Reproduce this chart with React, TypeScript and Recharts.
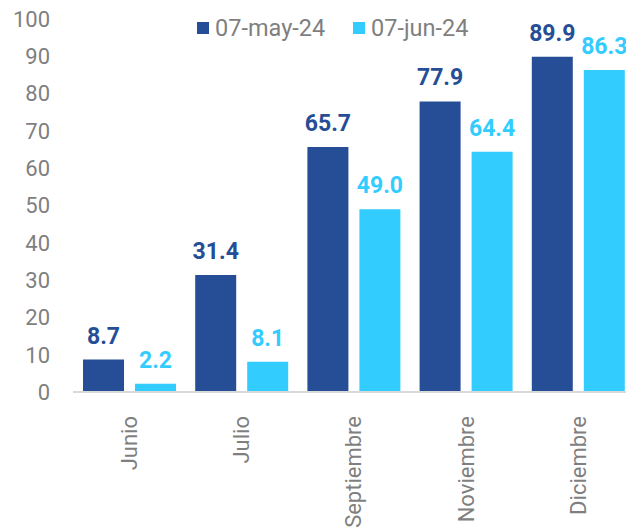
import React from "react";
import { BarChart, Bar, XAxis, YAxis, LabelList } from "recharts";

const months = ["Junio", "Julio", "Septiembre", "Noviembre", "Diciembre"];
const may24 = [8.7, 31.4, 65.7, 77.9, 89.9];
const jun24 = [2.2, 8.1, 49.0, 64.4, 86.3];
const yTicks = [0, 10, 20, 30, 40, 50, 60, 70, 80, 90, 100];
const seriesNames = ["07-may-24", "07-jun-24"];

const DARK = "#264e96";
const LIGHT = "#33ccff";
const GRAY = "#7f7f7f";
const FONT = "Roboto, sans-serif";

const data = months.map((m, i) => ({ month: m, may: may24[i], jun: jun24[i] }));

const MonthTick = ({ x, y, payload }: any) => (
  <text
    x={x}
    y={y + 16}
    transform={`rotate(-90, ${x}, ${y + 16})`}
    textAnchor="end"
    dy="0.36em"
    fill={GRAY}
    fontSize={22}
    fontFamily={FONT}
  >
    {payload.value}
  </text>
);

const Swatch = ({ color, label, left }: { color: string; label: string; left: number }) => (
  <div
    style={{
      position: "absolute",
      left,
      top: 14,
      display: "flex",
      alignItems: "center",
      fontFamily: FONT,
      fontSize: 23.5,
      color: GRAY,
      lineHeight: "28px",
    }}
  >
    <span style={{ width: 12, height: 12, background: color, marginRight: 6, display: "inline-block" }} />
    {label}
  </div>
);

export default function App() {
  return (
    <div style={{ position: "relative", width: 626, height: 529, overflow: "hidden" }}>
      <style>{`body{margin:0;overflow:hidden}`}</style>
      <BarChart
        width={640}
        height={529}
        data={data}
        margin={{ top: 19, right: 6, left: 0, bottom: 0 }}
        barGap={11}
        barSize={41}
      >
        <YAxis
          domain={[0, 100]}
          ticks={yTicks}
          interval={0}
          width={73}
          axisLine={false}
          tickLine={false}
          tickMargin={17}
          tick={{ fill: GRAY, fontSize: 22, fontFamily: FONT }}
        />
        <XAxis
          dataKey="month"
          height={137}
          interval={0}
          tickLine={false}
          axisLine={{ stroke: "#d9d9d9", strokeWidth: 2 }}
          tick={<MonthTick />}
        />
        <Bar dataKey="may" fill={DARK} isAnimationActive={false}>
          <LabelList
            dataKey="may"
            position="top"
            offset={16}
            formatter={(v: any) => Number(v).toFixed(1)}
            style={{ fill: DARK, fontSize: 23, fontWeight: 700, fontFamily: FONT }}
          />
        </Bar>
        <Bar dataKey="jun" fill={LIGHT} isAnimationActive={false}>
          <LabelList
            dataKey="jun"
            position="top"
            offset={16}
            formatter={(v: any) => Number(v).toFixed(1)}
            style={{ fill: LIGHT, fontSize: 23, fontWeight: 700, fontFamily: FONT }}
          />
        </Bar>
      </BarChart>
      <Swatch color={DARK} label={seriesNames[0]} left={197} />
      <Swatch color={LIGHT} label={seriesNames[1]} left={353} />
    </div>
  );
}
